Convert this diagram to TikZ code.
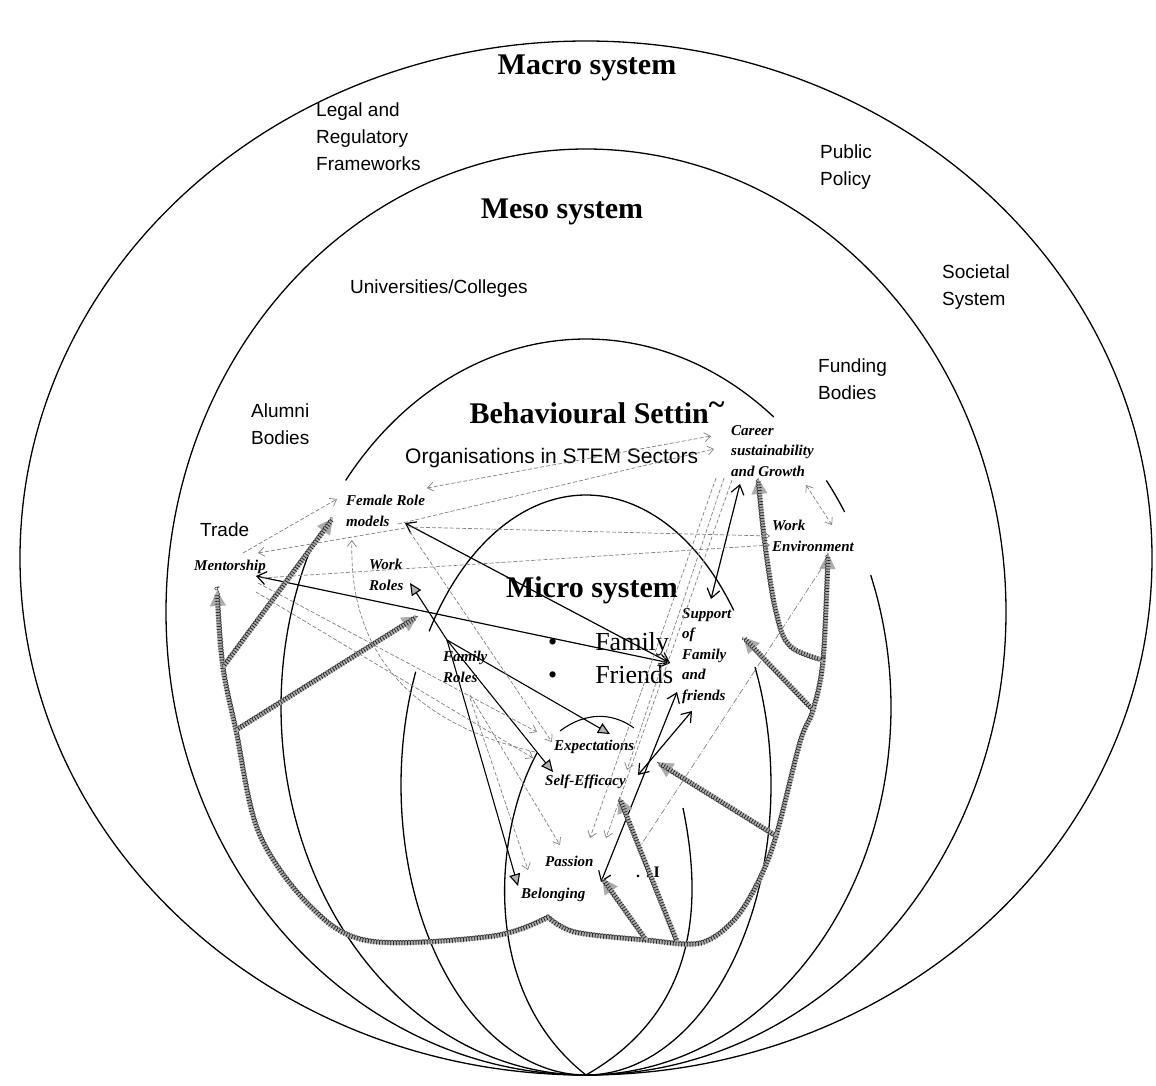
\documentclass[tikz,border=0pt]{standalone}
\usepackage{fontspec}
\setmainfont{Liberation Serif}
\newfontfamily\labfont{Liberation Sans}
\usetikzlibrary{arrows.meta,decorations.pathmorphing}

\tikzset{
  flowtip/.tip={Triangle[length=16pt,width=15pt]},
  wtip/.tip={Straight Barb[length=6pt,width=9pt]},
  btip/.tip={Straight Barb[length=9pt,width=13pt]},
  ring/.style={line width=1.3pt},
  sysname/.style={font=\fontsize{30}{34}\selectfont\bfseries},
  ctxlab/.style={font=\labfont\fontsize{19}{27}\selectfont, align=left, anchor=west, inner sep=0pt},
  factor/.style={font=\bfseries\itshape\fontsize{15}{20.5}\selectfont, align=left, anchor=west, inner sep=0pt},
  link/.style={line width=1.2pt, btip-btip},
  push/.style={line width=1.1pt, -{Triangle[length=12pt,width=11pt,fill=gray!60]}},
  weak/.style={gray, line width=0.7pt, dash pattern=on 4pt off 2pt, -wtip},
  flow/.style={draw=gray!65, line width=5pt, -flowtip,
    postaction={draw=gray!30!black, line width=0.5pt, -, decorate,
      decoration={coil,aspect=0.35,amplitude=2.3pt,segment length=2.8pt}}}
}

\begin{document}
\begin{tikzpicture}[x=1pt,y=-1pt]
\useasboundingbox (0,0) rectangle (1156,1085);

% nested systems, all meeting at the base
\draw[ring] (586,558) ellipse [x radius=566pt,y radius=517pt];
\draw[ring] (586,612) ellipse [x radius=420pt,y radius=463pt];
\foreach \a/\b in {218/308,322/328,339/566}
  \draw[ring] plot[domain=\a:\b,samples=80,smooth] ({586+305*cos(\x)},{707+368*sin(\x)});
\foreach \a/\b in {212/323,336/563}
  \draw[ring] plot[domain=\a:\b,samples=80,smooth] ({586+185*cos(\x)},{785+290*sin(\x)});
\coordinate (base) at (586,1075);
\draw[ring] (537,753) .. controls (495,830) and (478,990) .. (base);
\draw[ring] (683,808) .. controls (702,900) and (700,1010) .. (base);

% system names
\node[sysname] (macro) at (587,68) {Macro system};
\node[sysname] (meso) at (562,212) {Meso system};
\node[sysname] (behav) at (597,413) {Behavioural Settin\raisebox{.3em}{\textasciitilde}};
\node[sysname] (micro) at (592,590) {Micro system};

% context labels
\node[ctxlab] (legal) at (316,137) {Legal and\\Regulatory\\Frameworks};
\node[ctxlab] (policy) at (820,167) {Public\\Policy};
\node[ctxlab] (societal) at (942,287) {Societal\\System};
\node[ctxlab] (univ) at (350,289) {Universities/Colleges};
\node[ctxlab] (funding) at (818,379) {Funding\\Bodies};
\node[ctxlab] (alumni) at (251,424) {Alumni\\Bodies};
\node[ctxlab] (trade) at (200,530) {Trade};
\node[ctxlab, font=\labfont\fontsize{21}{25}\selectfont] (orgs) at (405,458) {Organisations in STEM Sectors};

% factors
\node[factor] (fem) at (346,511) {Female Role\\models};
\node[factor] (ment) at (194,567) {Mentorship};
\node[factor] (wrole) at (369,575) {Work\\Roles};
\node[factor] (frole) at (443,667) {Family\\Roles};
\node[factor] (career) at (731,451) {Career\\sustainability\\and Growth};
\node[factor] (wenv) at (772,536) {Work\\Environment};
\node[factor] (supp) at (682,656) {Support\\of\\Family\\and\\friends};
\node[factor] (expect) at (554,747) {Expectations};
\node[factor] (selfeff) at (545,782) {Self-Efficacy};
\node[factor] (passion) at (545,861) {Passion};
\node[factor] (belong) at (521,895) {Belonging};
\node[font=\fontsize{26}{30}\selectfont, anchor=west, inner sep=0pt] (fam) at (548,644) {\textbullet\hspace{38pt}Family};
\node[font=\fontsize{26}{30}\selectfont, anchor=west, inner sep=0pt] (frd) at (548,675) {\textbullet\hspace{38pt}Friends};
\node[font=\bfseries\fontsize{16}{18}\selectfont] (blot) at (648,872) {.\,\,:\,I};

% end points
\coordinate (frdTip) at (670,663);
\coordinate (femR) at (405,523);
\coordinate (mentR) at (256,576);
\coordinate (careerB) at (740,484);
\coordinate (suppT) at (711,599);
\coordinate (suppA) at (677,692);
\coordinate (suppB) at (692,711);
\coordinate (belongR) at (601,882);
\coordinate (effR) at (638,775);
\coordinate (froleT) at (447,640);

% black links
\draw[link] (femR) -- (frdTip);
\draw[link] (mentR) -- (frdTip);
\draw[link] (careerB) -- (suppT);
\draw[link] (suppA) -- (belongR);
\draw[link] (suppB) -- (effR);
\draw[push] (froleT) -- (410,583);
\draw[push] (froleT) -- (553,772);
\draw[push] (froleT) -- (610,734);
\draw[push] (froleT) -- (518,886);
\draw[line width=1.1pt] (560,731) .. controls (585,712) and (612,712) .. (634,728);

% thick grey flows
\coordinate (mentTip) at (217,590);
\coordinate (jl1) at (223,667);
\coordinate (jl2) at (236,730);
\coordinate (jb1) at (646,940);
\coordinate (jb2) at (677,942);
\coordinate (jr1) at (776,836);
\coordinate (jr2) at (813,710);
\coordinate (jr3) at (823,660);
\coordinate (wenvTip) at (828,553);
\draw[flow, flowtip-flowtip] plot[smooth,tension=.55] coordinates {(mentTip) (jl1) (jl2) (259,833) (311,907) (370,941) (493,936) (548,917)}
  -- plot[smooth,tension=.55] coordinates {(548,917) (575,932) (jb1) (700,943) (734,920) (758,882) (jr1) (800,742) (jr2) (jr3) (wenvTip)};
\draw[flow] (jl1) -- (333,518);
\draw[flow] (jl2) -- (418,616);
\draw[flow] (jb1) -- (602,878);
\draw[flow] (jb2) -- (619,797);
\draw[flow] (jr1) -- (657,762);
\draw[flow] (jr2) -- (743,637);
\draw[flow] plot[smooth,tension=.6] coordinates {(jr3) (790,646) (776,612) (765,545) (758,478)};

% dashed influences
\draw[weak, wtip-wtip] (427,488) -- (711,436);
\draw[weak] (398,524) -- (714,449);
\draw[weak] (408,527) -- (770,536);
\draw[weak] (262,578) -- (770,545);
\draw[weak] (243,553) -- (337,499);
\draw[weak] (405,528) -- (258,553);
\draw[weak] (258,583) -- (537,732);
\draw[weak] (256,592) -- (533,758);
\draw[weak] (535,752) .. controls (420,725) and (348,660) .. (352,540);
\draw[weak] (410,532) -- (552,742);
\draw[weak] (716,478) -- (590,838);
\draw[weak] (724,478) -- (627,770);
\draw[weak] (732,480) -- (606,838);
\draw[weak, wtip-wtip] (806,485) -- (832,525);
\draw[weak, -, dash pattern=on 6pt off 2pt on 1pt off 2pt] (827,560) -- (641,845);
\draw[weak] (470,695) -- (560,845);
\draw[weak] (470,698) -- (528,870);
\end{tikzpicture}
\end{document}
